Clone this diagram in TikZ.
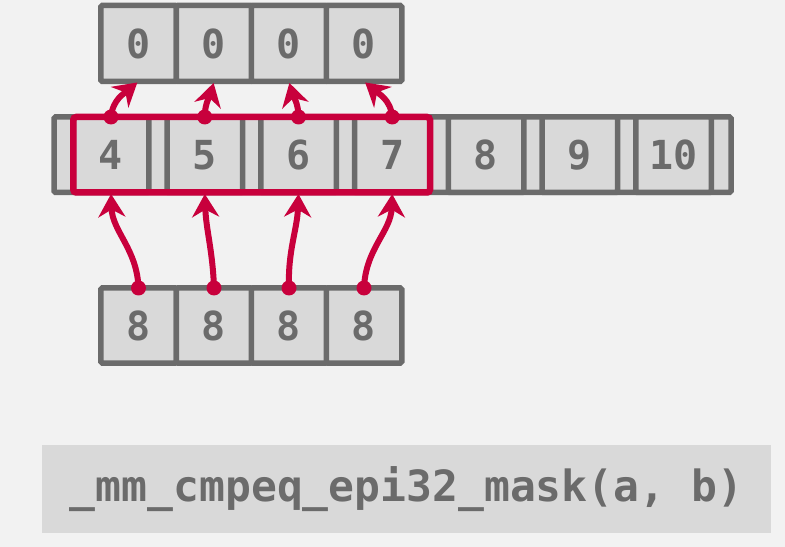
\documentclass[tikz,border=0pt]{standalone}
\usepackage{fontspec}
\usepackage{xcolor}
\usetikzlibrary{arrows.meta}
\setmonofont{DejaVu Sans Mono}
\definecolor{bgcol}{HTML}{F2F2F2}
\definecolor{cellcol}{HTML}{D9D9D9}
\definecolor{edgecol}{HTML}{6B6B6B}
\definecolor{maskred}{HTML}{C8003C}
\tikzset{
    cell/.style={draw=edgecol,fill=cellcol,line width=5.5bp,rounded corners=1.5bp,
        minimum width=75.5bp,minimum height=76bp,inner sep=0pt,outer sep=0pt,
        text=edgecol,font=\ttfamily\bfseries\fontsize{40bp}{40bp}\selectfont},
    lane/.style={draw=maskred,line width=6bp,-{Stealth[length=23bp,width=27bp]},shorten >=1.5bp},
}

\begin{document}
\begin{tikzpicture}[x=1bp,y=-1bp]
        %%% BACKGROUND %%%
        \fill[bgcol] (0,0) rectangle (785,547);
        \useasboundingbox (0,0) rectangle (785,547);

        %%% RESULT ROW %%%
        \node[cell] (z1) at (138.5,43.5) {0};
        \node[cell] (z2) at (214,43.5) {0};
        \node[cell] (z3) at (289,43.5) {0};
        \node[cell] (z4) at (364,43.5) {0};

        %%% DATA ROW %%%
        \draw[draw=edgecol,fill=cellcol,line width=5.5bp,rounded corners=1.5bp] (54,117) rectangle (731,192.5);
        \node[cell,minimum height=75.5bp] (m4) at (111,154.75) {4};
        \node[cell,minimum height=75.5bp] (m5) at (204.75,154.75) {5};
        \node[cell,minimum height=75.5bp] (m6) at (298.5,154.75) {6};
        \node[cell,minimum height=75.5bp] (m7) at (392.25,154.75) {7};
        \node[cell,minimum height=75.5bp] (m8) at (486,154.75) {8};
        \node[cell,minimum height=75.5bp] (m9) at (579.75,154.75) {9};
        \node[cell,minimum height=75.5bp] (m10) at (673.5,154.75) {10};
        \draw[maskred,line width=6.5bp,rounded corners=3bp] (m4.south west) rectangle (m7.north east);

        %%% BROADCAST ROW %%%
        \node[cell,minimum height=75bp] (b1) at (138.5,325.5) {8};
        \node[cell,minimum height=75bp] (b2) at (214,325.5) {8};
        \node[cell,minimum height=75bp] (b3) at (289,325.5) {8};
        \node[cell,minimum height=75bp] (b4) at (364,325.5) {8};

        %%% COMPARE ARROWS %%%
        \draw[lane] (b1.north) to[out=92,in=-88] (m4.south);
        \draw[lane] (b2.north) to[out=92,in=-88] (m5.south);
        \draw[lane] (b3.north) to[out=92,in=-92] (m6.south);
        \draw[lane] (b4.north) to[out=88,in=-92] (m7.south);
        \foreach \n in {b1,b2,b3,b4} \fill[maskred] (\n.north) circle (7.5bp);

        %%% MASK ARROWS %%%
        \draw[lane] (m4.north) to[out=85,in=-140] (z1.south);
        \draw[lane] (m5.north) to[out=90,in=-105] (z2.south);
        \draw[lane] (m6.north) to[out=90,in=-75] (z3.south);
        \draw[lane] (m7.north) to[out=95,in=-40] (z4.south);
        \foreach \n in {m4,m5,m6,m7} \fill[maskred] (\n.north) circle (7.5bp);

        %%% INTRINSIC %%%
        \node[fill=cellcol,minimum width=729bp,minimum height=88bp,inner sep=0pt,text=edgecol,
            font=\ttfamily\bfseries\fontsize{43bp}{43bp}\selectfont] (intr) at (406.5,489) {\_mm\_cmpeq\_epi32\_mask(a, b)};
    \end{tikzpicture}
\end{document}
